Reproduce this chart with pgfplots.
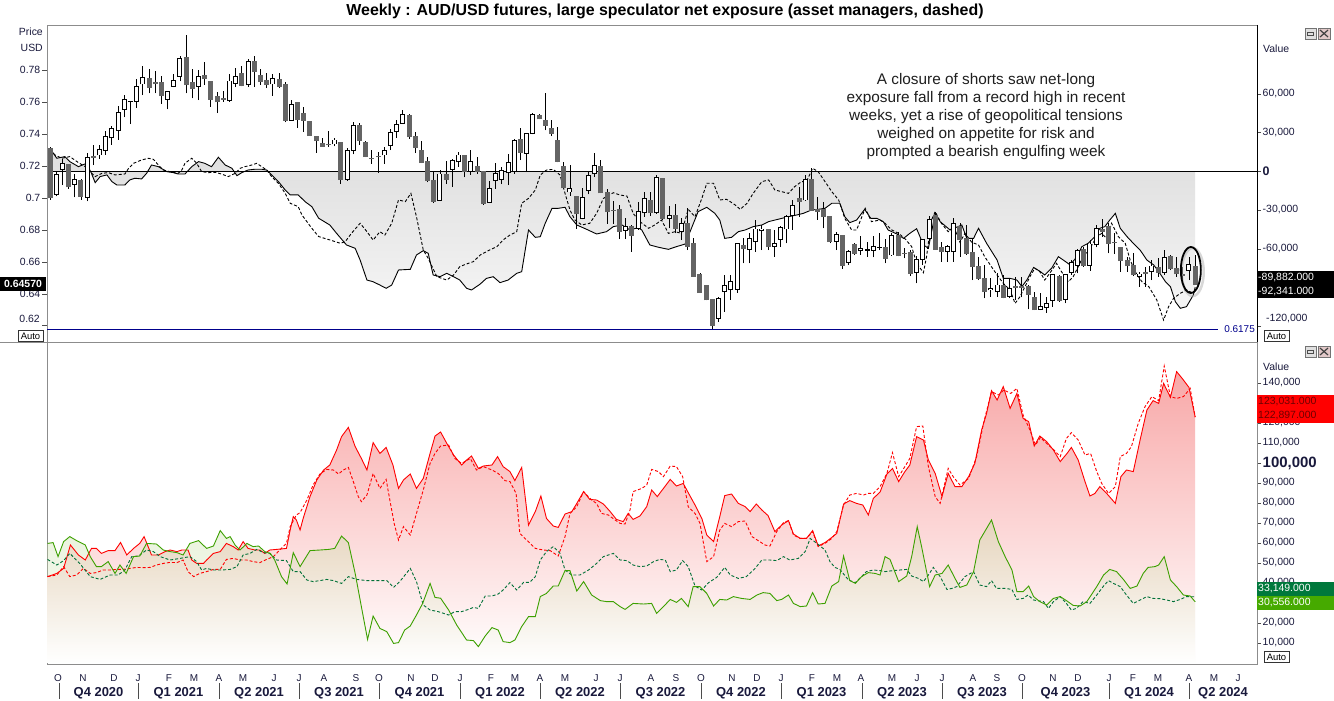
\documentclass[border=0pt]{standalone}
\usepackage{fontspec}
\setmainfont{Liberation Sans}
\usepackage{pgfplots}
\usepackage{pgfplotstable}
\pgfplotsset{compat=1.18}
\newcommand\fs[1]{\fontsize{#1}{#1}\selectfont}
\definecolor{cdown}{RGB}{100,100,100}
\definecolor{navyline}{RGB}{0,0,140}
\definecolor{gsolid}{RGB}{60,160,0}
\definecolor{gdash}{RGB}{0,112,55}
\definecolor{lblgreen}{RGB}{70,170,0}
\definecolor{lbldkgreen}{RGB}{0,120,60}
\definecolor{axtext}{RGB}{25,25,60}
\pgfplotsset{candle/.style={draw=none, mark=none, error bars/.cd, y dir=plus, y explicit, error mark=none}}

\pgfplotstableread{
i o h l c
1 .7022 .7160 .7010 .7146
2 .7178 .7241 .7080 .7215
4 .7086 .7150 .7004 .7118
6 .7004 .7284 .6978 .7256
8 .7269 .7333 .7247 .7303
9 .7297 .7419 .7269 .7385
10 .7376 .7452 .7333 .7437
11 .7424 .7574 .7366 .7533
12 .7553 .7645 .7505 .7617
13 .7603 .7610 .7462 .7607
14 .7607 .7746 .7566 .7699
15 .7714 .7824 .7645 .7753
19 .7617 .7671 .7555 .7667
20 .7699 .7774 .7695 .7738
21 .7763 .7888 .7731 .7875
24 .7699 .7802 .7613 .7759
29 .7609 .7774 .7602 .7733
30 .7720 .7817 .7695 .7761
32 .7710 .7871 .7695 .7856
36 .7714 .7778 .7641 .7746
39 .7488 .7613 .7485 .7587
46 .7338 .7376 .7323 .7363
48 .7118 .7311 .7106 .7300
49 .7300 .7473 .7273 .7456
54 .7269 .7322 .7215 .7300
55 .7327 .7435 .7300 .7413
56 .7415 .7488 .7376 .7462
57 .7469 .7553 .7462 .7522
63 .6985 .7172 .6980 .7150
65 .7179 .7247 .7071 .7232
66 .7226 .7286 .7194 .7269
68 .7166 .7300 .7144 .7230
71 .6972 .7108 .6968 .7058
72 .7108 .7219 .7058 .7151
73 .7118 .7194 .7086 .7172
74 .7157 .7273 .7080 .7219
75 .7166 .7372 .7151 .7359
77 .7280 .7410 .7161 .7404
78 .7404 .7531 .7398 .7522
84 .7037 .7204 .7015 .7058
86 .6871 .7065 .6865 .7004
87 .7049 .7161 .7022 .7140
88 .7151 .7279 .7130 .7204
93 .6796 .6871 .6742 .6822
95 .6809 .6976 .6800 .6914
96 .6907 .7039 .6882 .6997
98 .6907 .7144 .6900 .7129
100 .6872 .6949 .6809 .6891
102 .6788 .6872 .6736 .6841
108 .6245 .6381 .6224 .6370
109 .6412 .6517 .6287 .6448
110 .6423 .6517 .6360 .6475
111 .6427 .6720 .6406 .6715
113 .6677 .6778 .6590 .6746
114 .6726 .6861 .6663 .6805
115 .6793 .6830 .6673 .6805
117 .6698 .6799 .6632 .6715
118 .6740 .6825 .6694 .6815
119 .6805 .6893 .6715 .6882
120 .6889 .6987 .6799 .6955
122 .6987 .7143 .6980 .7116
127 .6726 .6788 .6673 .6768
129 .6594 .6673 .6579 .6664
131 .6669 .6762 .6642 .6684
132 .6673 .6726 .6632 .6675
133 .6673 .6762 .6627 .6698
134 .6690 .6778 .6673 .6691
136 .6642 .6778 .6636 .6762
140 .6531 .6636 .6464 .6614
141 .6614 .6745 .6579 .6740
142 .6746 .6887 .6732 .6866
145 .6663 .6705 .6600 .6698
146 .6663 .6872 .6600 .6841
152 .6423 .6496 .6381 .6433
153 .6412 .6527 .6381 .6454
155 .6381 .6496 .6370 .6433
160 .6301 .6402 .6297 .6322
161 .6314 .6381 .6280 .6339
162 .6356 .6525 .6318 .6521
164 .6364 .6520 .6339 .6517
165 .6531 .6611 .6517 .6594
166 .6579 .6680 .6527 .6673
168 .6579 .6736 .6544 .6711
169 .6705 .6830 .6690 .6809
176 .6510 .6537 .6443 .6523
178 .6537 .6611 .6485 .6573
180 .6531 .6673 .6517 .6627
184 .6544 .6632 .6485 .6585
}\upcandles

\pgfplotstableread{
i o h l c
0 .7308 .7320 .6990 .7000
3 .7211 .7215 .7058 .7069
5 .7110 .7118 .6989 .7011
7 .7262 .7329 .7206 .7256
16 .7746 .7806 .7656 .7695
17 .7725 .7796 .7656 .7716
18 .7725 .7763 .7591 .7641
22 .7882 .8022 .7656 .7710
23 .7725 .7806 .7624 .7684
25 .7768 .7849 .7710 .7748
26 .7731 .7735 .7570 .7619
27 .7639 .7667 .7531 .7602
28 .7622 .7671 .7602 .7617
31 .7778 .7828 .7699 .7705
33 .7856 .7892 .7695 .7791
34 .7768 .7811 .7710 .7731
35 .7738 .7785 .7688 .7710
37 .7742 .7785 .7688 .7699
38 .7710 .7725 .7473 .7488
40 .7596 .7602 .7441 .7490
41 .7527 .7570 .7413 .7488
42 .7480 .7484 .7388 .7391
43 .7385 .7391 .7282 .7359
44 .7342 .7376 .7320 .7323
45 .7338 .7419 .7320 .7333
47 .7348 .7350 .7086 .7118
50 .7452 .7467 .7334 .7360
51 .7348 .7359 .7255 .7258
52 .7249 .7301 .7215 .7247
53 .7260 .7290 .7157 .7258
58 .7516 .7527 .7372 .7383
59 .7387 .7415 .7280 .7318
60 .7300 .7359 .7218 .7221
61 .7226 .7258 .7097 .7108
62 .7112 .7166 .6968 .6978
64 .7150 .7230 .7086 .7118
67 .7264 .7266 .7129 .7168
69 .7194 .7258 .7151 .7166
70 .7166 .7168 .6957 .6963
76 .7366 .7441 .7237 .7286
79 .7516 .7527 .7493 .7495
80 .7488 .7656 .7424 .7456
81 .7437 .7488 .7387 .7404
82 .7359 .7447 .7222 .7230
83 .7194 .7226 .7062 .7065
85 .7011 .7013 .6806 .6899
89 .7200 .7237 .7030 .7032
90 .7032 .7054 .6839 .6914
91 .6922 .6980 .6839 .6920
92 .6930 .6957 .6742 .6791
94 .6824 .6828 .6662 .6764
97 .6983 .7039 .6887 .6907
99 .7123 .7125 .6861 .6872
101 .6887 .6960 .6778 .6809
103 .6841 .6935 .6673 .6698
104 .6715 .6746 .6508 .6510
105 .6517 .6531 .6404 .6406
106 .6448 .6450 .6358 .6360
107 .6366 .6368 .6178 .6203
112 .6700 .6746 .6590 .6680
116 .6799 .6801 .6673 .6694
121 .6997 .7070 .6882 .6976
123 .7116 .7185 .6922 .6924
124 .6930 .7008 .6862 .6914
125 .6928 .6976 .6809 .6882
126 .6882 .6884 .6715 .6726
128 .6762 .6764 .6556 .6579
130 .6711 .6715 .6642 .6653
135 .6690 .6740 .6590 .6621
137 .6762 .6788 .6634 .6636
138 .6653 .6684 .6621 .6651
139 .6657 .6673 .6510 .6527
143 .6887 .6914 .6675 .6677
144 .6690 .6726 .6600 .6663
147 .6820 .6841 .6632 .6736
148 .6746 .6830 .6642 .6653
149 .6657 .6746 .6485 .6569
150 .6573 .6632 .6485 .6496
151 .6496 .6579 .6370 .6412
154 .6454 .6517 .6370 .6377
156 .6443 .6506 .6360 .6441
157 .6443 .6506 .6377 .6440
158 .6443 .6454 .6301 .6397
159 .6374 .6412 .6297 .6299
163 .6510 .6517 .6350 .6356
167 .6677 .6694 .6569 .6579
170 .6803 .6866 .6757 .6788
171 .6820 .6841 .6653 .6715
172 .6720 .6778 .6648 .6718
173 .6690 .6692 .6537 .6606
174 .6606 .6632 .6537 .6573
175 .6579 .6653 .6510 .6517
177 .6531 .6565 .6443 .6523
179 .6565 .6621 .6506 .6531
181 .6632 .6642 .6548 .6559
182 .6559 .6632 .6506 .6523
183 .6517 .6569 .6489 .6515
185 .6573 .6642 .6454 .6457
}\downcandles

\begin{document}
\begin{tikzpicture}[x=1bp,y=1bp]
\fill[white] (0,0) rectangle (1334,-700);

% ---------- top panel: net exposure (right axis) ----------
\begin{axis}[at={(47bp,-25bp)}, anchor=north west, scale only axis,
  width=1210bp, height=317bp,
  xmin=-0.485, xmax=194.99, ymin=-132.33, ymax=113.41,
  axis line style={draw=black!45},
  xtick=\empty, ytick pos=right, tick align=outside,
  major tick length=4bp, ytick style={black!70},
  ytick={-120,-90,-60,-30,0,30,60},
  yticklabels={{},{},{-60,000},{-30,000},{\bfseries\fs{12.5}0},{30,000},{60,000}},
  yticklabel style={font=\fs{10.5}, anchor=west, inner sep=1.5bp, text=axtext}]
% shaded area between large-speculator net line and zero
\addplot[draw=none, top color=black!13, bottom color=black!4] coordinates {
(0,17.8) (1.1,10.1) (2.4,11.4) (3.2,7.5) (4.6,3.6) (5.9,6.2) (6.7,-1.6) (7.3,-8.8) (8.1,-4.1) (9.2,-2.8) (10.0,-8.0) (10.8,-10.6) (12.1,-10.6) (12.9,-6.7) (13.7,-5.4) (14.8,-5.9) (15.6,-1.6) (16.4,4.9) (17.5,3.6) (18.9,-0.3) (19.9,-1.0) (20.7,-2.1) (21.8,-2.1) (22.9,3.6) (24.0,7.5) (25.0,6.2) (26.1,3.6) (27.2,10.9) (28.3,4.9) (29.4,2.3) (30.2,-3.4) (31.0,-1.0) (32.0,1.0) (33.1,1.6) (34.2,1.6) (35.0,1.0) (35.8,-2.8) (36.9,-8.0) (38.0,-14.5) (38.8,-18.3) (40.1,-18.3) (41.2,-23.5) (42.3,-27.4) (43.4,-36.4) (45.2,-41.6) (46.3,-48.1) (47.9,-57.1) (49.3,-59.7) (50.1,-68.8) (51.2,-84.3) (52.2,-85.6) (53.3,-88.2) (54.3,-90.7) (55.2,-88.2) (56.3,-76.5) (58.2,-76.0) (59.2,-64.9) (60.3,-61.5) (61.1,-63.6) (61.9,-80.4) (63.0,-81.7) (64.1,-79.1) (65.2,-81.7) (66.2,-84.3) (67.3,-90.7) (68.1,-92.0) (69.5,-87.4) (70.5,-83.0) (71.6,-81.7) (72.7,-86.3) (74.0,-84.3) (75.4,-79.1) (76.2,-77.8) (77.3,-45.5) (78.4,-51.2) (79.2,-50.7) (80.0,-40.3) (81.1,-28.7) (82.1,-28.7) (83.2,-27.9) (84.0,-35.2) (85.1,-41.6) (86.7,-45.0) (88.3,-48.6) (89.9,-46.8) (91.0,-42.9) (92.4,-41.6) (93.7,-45.5) (95.0,-43.7) (95.6,-45.5) (96.9,-57.1) (98.3,-58.9) (99.9,-60.5) (101.2,-58.4) (102.6,-56.4) (103.4,-46.8) (104.7,-31.3) (106.1,-27.9) (107.4,-32.6) (108.2,-37.8) (109.0,-52.0) (110.1,-51.2) (111.2,-46.8) (112.3,-45.5) (113.6,-42.9) (115.0,-41.6) (116.1,-39.0) (117.1,-37.8) (118.2,-36.5) (119.3,-35.2) (120.6,-33.9) (121.7,-32.6) (123.0,-30.0) (124.1,-29.5) (125.2,-28.7) (126.3,-24.8) (127.6,-24.8) (128.4,-35.2) (129.2,-39.8) (130.3,-37.8) (131.6,-29.5) (132.6,-36.5) (133.6,-36.5) (134.6,-39.0) (135.4,-45.5) (136.8,-48.6) (137.9,-52.0) (138.9,-48.1) (140.0,-44.5) (141.1,-57.1) (141.9,-59.7) (143.0,-32.6) (143.8,-39.0) (145.4,-45.5) (147.3,-41.6) (148.1,-52.0) (149.2,-52.0) (150.0,-44.2) (151.3,-55.8) (153.0,-68.8) (154.0,-83.0) (155.1,-83.0) (156.2,-84.3) (157.0,-89.4) (157.8,-84.3) (158.9,-74.5) (160.0,-77.8) (160.7,-80.4) (161.8,-75.2) (162.9,-66.2) (163.7,-68.8) (164.8,-72.6) (165.9,-66.2) (166.7,-58.4) (167.7,-55.8) (168.8,-50.7) (169.6,-44.2) (170.4,-42.9) (171.2,-37.8) (172.1,-32.6) (172.9,-44.2) (174.0,-50.7) (175.0,-55.8) (176.1,-61.0) (177.2,-68.8) (178.3,-72.6) (179.3,-79.1) (180.2,-85.6) (181.0,-89.4) (181.8,-101.1) (182.6,-106.2) (183.6,-104.9) (184.7,-95.9) (185,-89.9)} \closedcycle;
% large speculators net (solid)
\addplot[black, line width=0.9bp] coordinates {
(0,17.8) (1.1,10.1) (2.4,11.4) (3.2,7.5) (4.6,3.6) (5.9,6.2) (6.7,-1.6) (7.3,-8.8) (8.1,-4.1) (9.2,-2.8) (10.0,-8.0) (10.8,-10.6) (12.1,-10.6) (12.9,-6.7) (13.7,-5.4) (14.8,-5.9) (15.6,-1.6) (16.4,4.9) (17.5,3.6) (18.9,-0.3) (19.9,-1.0) (20.7,-2.1) (21.8,-2.1) (22.9,3.6) (24.0,7.5) (25.0,6.2) (26.1,3.6) (27.2,10.9) (28.3,4.9) (29.4,2.3) (30.2,-3.4) (31.0,-1.0) (32.0,1.0) (33.1,1.6) (34.2,1.6) (35.0,1.0) (35.8,-2.8) (36.9,-8.0) (38.0,-14.5) (38.8,-18.3) (40.1,-18.3) (41.2,-23.5) (42.3,-27.4) (43.4,-36.4) (45.2,-41.6) (46.3,-48.1) (47.9,-57.1) (49.3,-59.7) (50.1,-68.8) (51.2,-84.3) (52.2,-85.6) (53.3,-88.2) (54.3,-90.7) (55.2,-88.2) (56.3,-76.5) (58.2,-76.0) (59.2,-64.9) (60.3,-61.5) (61.1,-63.6) (61.9,-80.4) (63.0,-81.7) (64.1,-79.1) (65.2,-81.7) (66.2,-84.3) (67.3,-90.7) (68.1,-92.0) (69.5,-87.4) (70.5,-83.0) (71.6,-81.7) (72.7,-86.3) (74.0,-84.3) (75.4,-79.1) (76.2,-77.8) (77.3,-45.5) (78.4,-51.2) (79.2,-50.7) (80.0,-40.3) (81.1,-28.7) (82.1,-28.7) (83.2,-27.9) (84.0,-35.2) (85.1,-41.6) (86.7,-45.0) (88.3,-48.6) (89.9,-46.8) (91.0,-42.9) (92.4,-41.6) (93.7,-45.5) (95.0,-43.7) (95.6,-45.5) (96.9,-57.1) (98.3,-58.9) (99.9,-60.5) (101.2,-58.4) (102.6,-56.4) (103.4,-46.8) (104.7,-31.3) (106.1,-27.9) (107.4,-32.6) (108.2,-37.8) (109.0,-52.0) (110.1,-51.2) (111.2,-46.8) (112.3,-45.5) (113.6,-42.9) (115.0,-41.6) (116.1,-39.0) (117.1,-37.8) (118.2,-36.5) (119.3,-35.2) (120.6,-33.9) (121.7,-32.6) (123.0,-30.0) (124.1,-29.5) (125.2,-28.7) (126.3,-24.8) (127.6,-24.8) (128.4,-35.2) (129.2,-39.8) (130.3,-37.8) (131.6,-29.5) (132.6,-36.5) (133.6,-36.5) (134.6,-39.0) (135.4,-45.5) (136.8,-48.6) (137.9,-52.0) (138.9,-48.1) (140.0,-44.5) (141.1,-57.1) (141.9,-59.7) (143.0,-32.6) (143.8,-39.0) (145.4,-45.5) (147.3,-41.6) (148.1,-52.0) (149.2,-52.0) (150.0,-44.2) (151.3,-55.8) (153.0,-68.8) (154.0,-83.0) (155.1,-83.0) (156.2,-84.3) (157.0,-89.4) (157.8,-84.3) (158.9,-74.5) (160.0,-77.8) (160.7,-80.4) (161.8,-75.2) (162.9,-66.2) (163.7,-68.8) (164.8,-72.6) (165.9,-66.2) (166.7,-58.4) (167.7,-55.8) (168.8,-50.7) (169.6,-44.2) (170.4,-42.9) (171.2,-37.8) (172.1,-32.6) (172.9,-44.2) (174.0,-50.7) (175.0,-55.8) (176.1,-61.0) (177.2,-68.8) (178.3,-72.6) (179.3,-79.1) (180.2,-85.6) (181.0,-89.4) (181.8,-101.1) (182.6,-106.2) (183.6,-104.9) (184.7,-95.9) (185,-89.9)};
% asset managers net (dashed)
\addplot[black, line width=0.9bp, dash pattern=on 3bp off 2bp] coordinates {
(0,16.5) (0.8,12.7) (1.9,10.1) (3.2,11.4) (4.6,6.7) (5.7,3.6) (6.5,-0.3) (7.3,-4.1) (8.4,-1.6) (9.4,-1.0) (10.5,-2.8) (12.1,-2.1) (12.7,2.3) (13.5,6.2) (14.8,8.8) (15.9,10.1) (16.7,9.3) (17.5,4.9) (18.3,1.0) (19.4,-0.3) (20.7,-1.6) (21.3,1.0) (21.8,6.2) (22.9,10.1) (23.7,6.2) (24.5,-0.3) (25.6,-1.0) (26.7,-0.8) (27.7,-2.1) (28.8,-4.1) (29.9,-1.6) (30.7,2.3) (31.5,3.6) (32.6,4.9) (33.4,6.2) (34.2,3.6) (35.0,1.0) (35.8,-4.1) (36.9,-9.3) (38.0,-17.1) (38.8,-24.8) (40.1,-27.4) (40.7,-33.9) (42.3,-44.2) (43.4,-50.6) (45.2,-53.2) (46.9,-55.8) (47.7,-54.5) (48.7,-48.1) (50.1,-40.3) (51.2,-46.8) (52.2,-53.3) (53.3,-46.8) (54.1,-49.4) (55.2,-40.3) (56.3,-22.2) (57.4,-23.5) (58.3,-17.1) (59.2,-35.2) (60.3,-61.0) (61.1,-67.5) (62.5,-81.7) (64.1,-84.3) (65.2,-80.4) (66.2,-73.9) (67.3,-71.8) (68.4,-70.0) (69.5,-64.9) (70.8,-61.5) (72.2,-58.4) (73.2,-53.2) (74.3,-49.4) (75.4,-46.8) (76.2,-24.8) (77.3,-21.0) (78.4,-14.5) (79.2,-2.9) (80.2,1.0) (81.3,1.5) (82.4,-2.9) (83.2,-17.1) (84.0,-30.0) (84.8,-37.7) (85.9,-41.6) (87.2,-40.3) (88.3,-32.6) (89.4,-21.0) (91.0,-16.6) (92.1,-18.4) (93.2,-19.2) (94.2,-32.6) (95.3,-39.0) (96.7,-44.2) (97.7,-41.6) (98.8,-37.8) (99.9,-48.1) (101.0,-46.8) (102.0,-48.1) (103.1,-29.5) (104.2,-35.2) (105.3,-21.0) (106.1,-9.3) (107.2,-9.3) (108.2,-22.2) (109.3,-21.7) (110.7,-26.1) (111.5,-29.5) (112.6,-24.8) (113.6,-17.1) (115.0,-8.0) (116.1,-6.7) (117.1,-14.5) (118.2,-15.8) (119.3,-17.1) (120.3,-11.9) (121.4,-8.0) (122.2,-8.0) (123.2,2.3) (124.1,-0.3) (125.2,-8.0) (126.3,-15.8) (127.4,-22.2) (128.4,-36.5) (129.5,-45.5) (130.3,-45.5) (131.7,-28.7) (132.7,-39.0) (134.1,-37.8) (134.9,-40.3) (136.0,-45.5) (137.1,-48.1) (138.2,-52.7) (139.2,-58.4) (140.0,-71.3) (141.1,-78.6) (141.6,-66.2) (142.4,-37.8) (143.0,-31.3) (144.0,-40.3) (145.1,-46.8) (146.0,-42.9) (147.0,-55.0) (147.8,-48.1) (148.9,-55.0) (150.0,-57.1) (151.0,-66.2) (151.9,-72.6) (153.0,-80.4) (154.0,-86.8) (155.1,-92.0) (155.9,-102.4) (156.7,-97.2) (157.5,-89.4) (158.3,-81.7) (159.1,-75.2) (159.9,-77.8) (160.7,-84.3) (161.5,-79.1) (162.6,-71.3) (163.4,-77.8) (164.5,-85.6) (165.3,-81.7) (166.1,-73.9) (166.9,-66.2) (168.0,-59.7) (169.1,-50.7) (169.9,-48.1) (170.7,-52.0) (171.5,-40.3) (172.6,-50.7) (173.7,-55.8) (174.5,-68.8) (175.3,-77.8) (176.4,-85.6) (177.5,-89.4) (178.8,-99.8) (179.9,-115.3) (180.7,-105.0) (181.5,-98.5) (182.6,-94.6) (183.6,-92.0) (184.7,-94.6) (185,-92.3)};
\addplot[black, line width=0.9bp] coordinates {(-0.485,0) (194.99,0)};
\end{axis}

% ---------- top panel: price candles (left axis) ----------
\begin{axis}[at={(47bp,-25bp)}, anchor=north west, scale only axis,
  width=1210bp, height=317bp,
  xmin=-0.485, xmax=194.99, ymin=0.60966, ymax=0.8084,
  hide x axis, axis y line*=left, axis line style={draw=black!45},
  ytick pos=left, tick align=outside, major tick length=5bp, ytick style={black!70},
  ytick={0.62,0.64,0.66,0.68,0.70,0.72,0.74,0.76,0.78},
  yticklabels={{},0.64,0.66,0.68,0.7,0.72,0.74,0.76,0.78},
  yticklabel style={font=\fs{10.5}, anchor=east, inner sep=1.5bp, text=axtext}]
\addplot[navyline, line width=1bp] coordinates {(-0.485,0.6175) (188.7,0.6175)};
% wicks
\addplot[candle, error bar style={draw=black, line width=0.9bp}]
  table[x=i, y=l, y error plus expr=\thisrow{h}-\thisrow{l}] {\upcandles};
\addplot[candle, error bar style={draw=black, line width=0.9bp}]
  table[x=i, y=l, y error plus expr=\thisrow{h}-\thisrow{l}] {\downcandles};
% bullish bodies
\addplot[candle, error bar style={draw=black, line width=5bp}]
  table[x=i, y expr=\thisrow{o}-0.0003, y error plus expr=\thisrow{c}-\thisrow{o}+0.0006] {\upcandles};
\addplot[candle, error bar style={draw=white, line width=3bp}]
  table[x=i, y expr=\thisrow{o}+0.0003, y error plus expr={max(\thisrow{c}-\thisrow{o}-0.0006,0)}] {\upcandles};
% bearish bodies
\addplot[candle, error bar style={draw=cdown, line width=5bp}]
  table[x=i, y expr=\thisrow{c}-0.0003, y error plus expr=\thisrow{o}-\thisrow{c}+0.0006] {\downcandles};
\draw[black!30, line width=2.5bp, opacity=0.5] (axis cs:184.6,0.6535) ellipse [x radius=11bp, y radius=24bp];
\draw[black, line width=1.8bp] (axis cs:184.3,0.6548) ellipse [x radius=10bp, y radius=23bp];
\end{axis}

% ---------- bottom panel ----------
\begin{axis}[at={(47bp,-342bp)}, anchor=north west, scale only axis,
  width=1210bp, height=322bp,
  xmin=-0.485, xmax=194.99, ymin=-0.5, ymax=160.5,
  axis line style={draw=black!45},
  ytick pos=right, tick align=outside, major tick length=4bp, ytick style={black!70},
  xtick style={draw=none},
  ytick={10,20,30,40,50,60,70,80,90,100,110,120,130,140},
  yticklabels={{10,000},{20,000},{},{40,000},{50,000},{60,000},{70,000},{80,000},{90,000},{\bfseries\fs{15}100,000},{110,000},{120,000},{},{140,000}},
  yticklabel style={font=\fs{10.5}, anchor=west, inner sep=1.5bp, text=axtext},
  xtick={1.29,5.33,10.34,14.22,19.22,23.26,27.30,31.18,36.19,40.23,44.26,49.43,53.15,58.32,62.20,66.24,71.24,75.12,79.16,83.20,88.21,92.08,97.09,101.13,105.17,110.18,114.22,118.09,123.10,127.14,131.02,136.03,140.06,144.10,149.11,152.99,157.03,162.04,166.07,171.08,174.96,179.00,184.01,188.05,191.92},
  xticklabels={O,N,D,J,F,M,A,M,J,J,A,S,O,N,D,J,F,M,A,M,J,J,A,S,O,N,D,J,F,M,A,M,J,J,A,S,O,N,D,J,F,M,A,M,J},
  xticklabel style={font=\fs{10}, anchor=north, inner sep=0pt, yshift=-6bp, text=axtext},
  extra x ticks={7.84,20.76,33.77,46.69,59.70,72.70,85.62,98.63,111.63,124.64,137.64,150.57,164.06,177.55,189.5},
  extra x tick labels={Q4 2020,Q1 2021,Q2 2021,Q3 2021,Q4 2021,Q1 2022,Q2 2022,Q3 2022,Q4 2022,Q1 2023,Q2 2023,Q3 2023,Q4 2023,Q1 2024,Q2 2024},
  extra x tick style={xtick style={draw=none}, xticklabel style={font=\bfseries\fs{13}, anchor=north, inner sep=0pt, yshift=-13bp, text=axtext}}]
% red area (large speculators long)
\addplot[draw=none, top color={rgb,255:red,248;green,168;blue,168}, bottom color=white] coordinates {
(-0.4,43.2) (1.1,44.8) (2.2,47.3) (3.3,59.0) (4.6,54.0) (5.7,51.5) (6.7,57.3) (7.5,57.3) (8.3,54.8) (9.4,56.2) (10.5,56.2) (11.4,60.3) (12.4,54.0) (13.5,57.3) (14.5,59.8) (15.2,63.2) (16.4,54.0) (17.5,54.0) (18.6,55.7) (19.4,56.5) (20.5,55.7) (21.3,56.5) (22.3,56.5) (22.9,51.5) (23.7,49.8) (24.8,49.8) (25.3,51.5) (26.4,54.8) (27.5,55.7) (28.5,59.8) (29.6,58.2) (30.4,56.5) (31.2,60.7) (32.0,57.3) (33.1,56.5) (33.9,56.5) (34.7,54.8) (35.5,56.5) (36.6,56.8) (38.2,57.3) (38.8,66.5) (39.3,73.2) (39.8,71.5) (40.4,66.5) (40.9,72.3) (42.0,83.2) (43.1,91.5) (44.2,96.5) (45.2,99.0) (46.3,106.5) (47.1,113.2) (48.2,117.8) (49.3,108.2) (50.3,102.3) (51.2,96.5) (52.2,110.2) (53.3,104.8) (54.3,107.8) (55.4,99.0) (56.3,87.3) (57.1,91.5) (58.2,94.5) (59.2,87.3) (60.3,92.3) (61.4,104.8) (62.2,113.5) (63.1,115.5) (64.1,109.8) (65.2,104.0) (66.5,99.0) (67.3,101.5) (68.1,103.5) (69.2,97.3) (70.0,98.5) (71.4,99.0) (72.3,103.2) (73.2,98.2) (74.3,95.7) (75.1,91.2) (76.2,97.8) (77.3,69.0) (78.4,75.7) (79.3,83.5) (80.2,72.3) (81.3,68.5) (82.1,67.8) (83.2,74.5) (84.3,75.7) (85.1,79.8) (86.2,85.7) (87.2,81.8) (88.3,81.5) (89.4,79.5) (90.5,75.7) (91.5,71.8) (92.6,70.7) (93.4,74.8) (94.2,71.8) (95.3,73.5) (96.4,78.2) (97.2,86.5) (98.1,83.2) (99.1,87.3) (100.2,91.8) (101.2,88.5) (102.3,89.8) (103.1,85.2) (104.2,79.0) (105.3,72.3) (106.1,64.0) (107.2,60.7) (108.2,73.2) (109.0,83.7) (110.1,84.5) (111.2,79.8) (112.3,78.2) (113.1,75.7) (114.1,79.5) (115.0,76.5) (116.0,73.7) (117.1,65.7) (118.2,69.0) (119.3,71.2) (120.1,64.5) (121.2,62.3) (122.2,62.3) (123.2,66.2) (124.1,58.5) (125.2,60.2) (126.3,62.8) (127.1,64.8) (128.2,79.5) (129.2,81.2) (130.3,79.8) (131.3,79.0) (132.2,74.0) (133.0,82.3) (134.1,85.5) (135.2,94.5) (136.1,97.3) (137.1,90.7) (138.1,95.7) (138.9,99.0) (140.0,113.2) (141.1,111.5) (141.9,101.5) (143.0,94.8) (144.1,83.2) (145.1,94.8) (146.2,88.2) (147.3,88.2) (148.4,93.2) (149.4,99.8) (150.5,116.5) (151.3,124.8) (152.1,136.2) (153.0,131.5) (154.0,138.2) (155.1,127.3) (156.2,134.8) (157.2,122.3) (158.1,120.7) (159.0,108.5) (159.9,113.5) (161.0,110.7) (162.1,106.5) (163.2,100.7) (164.3,104.8) (165.0,107.8) (166.1,101.5) (167.2,90.7) (168.0,83.5) (168.8,84.8) (169.6,88.2) (170.7,84.8) (172.1,79.8) (173.0,93.2) (173.9,96.5) (175.0,95.7) (176.1,111.5) (177.2,126.5) (178.2,131.2) (179.1,129.8) (179.9,139.8) (181.0,132.8) (182.0,145.7) (182.9,142.3) (184.0,137.8) (185.0,123.0)} \closedcycle;
% green area (large speculators short)
\addplot[draw=none, top color={rgb,255:red,185;green,215;blue,140}, bottom color=white, fill opacity=0.32] coordinates {
(-0.4,59.8) (0.5,60.2) (1.3,53.2) (2.2,60.7) (3.2,63.2) (4.3,61.2) (5.7,59.0) (6.5,53.2) (7.5,48.2) (8.3,48.2) (9.4,50.7) (10.5,44.8) (11.3,49.0) (12.3,44.8) (13.5,53.2) (14.5,53.5) (15.6,59.8) (17.2,59.5) (18.3,56.5) (19.4,55.7) (20.5,55.2) (21.5,54.0) (22.6,59.8) (24.0,61.2) (25.3,57.3) (26.4,58.5) (27.5,66.2) (28.5,62.3) (29.1,63.2) (29.9,59.0) (30.7,56.5) (31.8,59.8) (32.8,58.2) (33.7,58.5) (34.7,55.7) (35.6,54.8) (36.3,51.5) (37.4,43.2) (38.3,39.5) (39.3,55.2) (40.4,48.2) (42.0,56.2) (43.6,56.5) (45.0,56.8) (46.0,57.3) (47.1,63.5) (48.2,60.2) (49.3,44.8) (50.3,28.2) (51.3,11.8) (52.2,23.5) (53.3,17.3) (54.4,15.7) (55.5,9.8) (56.3,10.2) (57.3,16.5) (58.2,18.5) (59.2,24.0) (60.2,29.8) (61.4,39.8) (62.2,32.8) (63.1,32.4) (64.4,26.5) (65.7,19.0) (67.3,11.5) (68.4,11.2) (69.2,8.2) (70.3,13.5) (71.4,17.7) (72.4,16.5) (73.2,10.7) (74.3,10.2) (75.1,11.5) (76.2,18.2) (77.3,23.2) (78.4,23.2) (79.2,33.2) (80.2,34.8) (81.3,38.5) (82.1,38.5) (83.2,46.2) (84.0,46.2) (85.1,36.0) (86.2,40.7) (87.5,34.0) (88.9,31.2) (89.9,30.7) (91.0,30.7) (92.1,28.2) (92.9,26.8) (94.2,29.8) (95.9,29.5) (97.2,29.8) (98.0,24.8) (99.1,28.2) (100.2,31.8) (101.2,30.3) (102.0,32.3) (103.1,28.2) (103.9,38.2) (105.0,38.2) (106.1,34.8) (107.2,28.5) (108.2,31.8) (109.3,31.5) (110.4,33.2) (111.7,32.3) (113.1,31.8) (114.2,34.0) (115.2,35.2) (116.3,34.8) (117.4,31.2) (118.2,31.8) (119.3,34.0) (120.1,29.8) (121.2,28.2) (122.2,28.5) (123.2,35.2) (124.1,29.5) (125.2,29.8) (126.3,38.5) (127.4,40.7) (128.2,53.5) (129.2,41.2) (130.1,39.8) (131.1,43.2) (132.2,45.2) (133.3,44.8) (134.1,44.0) (134.9,53.2) (135.7,51.8) (137.1,40.7) (138.4,43.5) (139.2,53.2) (140.1,68.2) (140.8,58.2) (142.1,38.2) (143.0,44.0) (144.1,44.8) (145.1,49.0) (146.2,42.3) (147.0,37.8) (148.1,39.0) (149.2,45.7) (150.2,61.5) (152.1,71.5) (153.2,60.7) (154.3,53.2) (155.4,46.5) (156.2,35.7) (157.2,35.7) (158.1,38.5) (158.9,33.2) (159.9,30.7) (161.0,29.0) (162.1,32.3) (163.2,33.2) (164.2,31.2) (165.3,28.8) (166.4,28.5) (167.5,30.7) (169.1,38.2) (170.2,44.0) (171.2,46.8) (172.3,45.7) (173.4,41.8) (174.5,37.3) (175.6,38.5) (176.6,44.8) (177.4,47.8) (178.5,48.2) (179.1,49.0) (180.0,53.2) (181.0,41.5) (182.0,38.2) (183.1,34.0) (184.2,33.5) (185.0,30.6)} \closedcycle;
% red dashed (asset managers long)
\addplot[red, line width=0.9bp, dash pattern=on 3bp off 2bp] coordinates {
(-0.4,43.2) (1.1,44.0) (2.2,48.2) (3.2,43.2) (4.3,44.0) (5.4,47.3) (6.5,44.8) (7.5,45.2) (8.6,46.5) (9.7,46.5) (10.8,46.8) (11.8,46.8) (12.9,47.3) (14.0,47.8) (15.1,47.7) (16.2,47.8) (17.2,49.0) (18.3,49.8) (19.4,50.3) (20.5,50.2) (21.5,51.5) (22.3,45.7) (23.2,43.2) (24.2,44.8) (25.3,45.7) (26.4,46.8) (27.5,46.8) (28.5,51.8) (29.6,52.3) (30.7,51.5) (31.8,51.5) (32.8,50.7) (33.9,50.2) (35.0,51.8) (36.1,53.2) (37.2,56.8) (38.2,59.8) (38.8,68.2) (39.8,74.0) (40.4,75.2) (41.5,81.5) (42.5,89.0) (43.6,94.5) (44.7,96.8) (45.8,96.5) (46.6,94.5) (47.4,96.5) (48.2,97.8) (49.0,90.7) (49.8,83.2) (50.3,80.7) (51.2,84.0) (52.2,94.8) (53.3,87.3) (54.3,91.8) (54.9,81.5) (55.6,69.8) (56.3,61.5) (57.1,68.2) (58.2,64.0) (59.2,74.8) (60.3,86.5) (61.4,99.8) (62.2,104.8) (63.1,108.5) (64.4,109.0) (65.4,102.3) (66.5,99.8) (67.9,102.3) (68.9,96.5) (70.0,98.2) (71.4,96.5) (72.4,94.8) (73.5,91.2) (74.3,90.7) (75.3,84.8) (75.9,64.8) (77.0,61.5) (78.4,57.3) (79.7,56.5) (80.8,56.2) (82.1,53.5) (83.2,63.2) (84.0,74.8) (85.1,78.2) (86.2,85.7) (87.5,81.5) (88.3,79.8) (89.1,74.8) (90.2,74.0) (91.3,71.5) (92.1,69.8) (92.9,69.5) (93.7,76.5) (94.2,85.7) (95.6,87.3) (96.4,89.0) (97.2,96.8) (98.3,95.7) (99.1,93.2) (100.2,98.5) (101.2,98.2) (102.2,93.2) (103.1,78.2) (104.2,74.8) (105.0,69.8) (106.1,50.7) (107.2,53.2) (108.2,66.5) (109.0,69.8) (110.1,68.2) (111.2,70.7) (112.3,71.0) (113.4,63.2) (114.4,61.2) (115.5,59.0) (116.3,58.5) (117.4,65.7) (118.5,70.2) (119.3,71.2) (120.1,64.0) (121.2,62.3) (122.2,62.3) (123.2,65.7) (124.1,58.2) (125.2,59.8) (126.3,62.3) (127.1,65.7) (128.2,79.0) (129.2,84.0) (130.3,84.8) (131.4,84.0) (132.2,84.8) (133.0,84.8) (134.1,88.2) (135.2,94.8) (136.1,105.2) (137.1,93.2) (138.1,98.2) (138.9,102.3) (140.0,118.2) (141.0,118.5) (141.9,98.2) (143.0,83.2) (143.8,79.8) (144.3,86.5) (145.1,97.3) (145.9,93.2) (147.0,89.0) (148.4,92.3) (149.7,103.2) (150.8,119.8) (152.1,135.7) (153.2,134.0) (154.1,136.5) (155.2,134.8) (156.2,137.3) (157.2,124.0) (158.3,116.5) (159.2,109.0) (160.0,112.8) (161.0,109.8) (162.1,106.8) (163.2,103.2) (164.2,112.3) (165.0,115.2) (166.1,111.5) (167.2,104.0) (168.1,104.8) (169.1,95.7) (169.9,89.8) (171.0,84.8) (172.1,88.2) (172.9,103.2) (173.9,104.8) (174.7,108.2) (175.8,119.8) (176.9,128.2) (178.0,133.2) (179.1,131.2) (180.0,148.5) (181.0,133.2) (182.0,132.3) (183.1,133.2) (184.2,137.3) (185.0,122.9)};
% red solid line
\addplot[red, line width=0.9bp] coordinates {
(-0.4,43.2) (1.1,44.8) (2.2,47.3) (3.3,59.0) (4.6,54.0) (5.7,51.5) (6.7,57.3) (7.5,57.3) (8.3,54.8) (9.4,56.2) (10.5,56.2) (11.4,60.3) (12.4,54.0) (13.5,57.3) (14.5,59.8) (15.2,63.2) (16.4,54.0) (17.5,54.0) (18.6,55.7) (19.4,56.5) (20.5,55.7) (21.3,56.5) (22.3,56.5) (22.9,51.5) (23.7,49.8) (24.8,49.8) (25.3,51.5) (26.4,54.8) (27.5,55.7) (28.5,59.8) (29.6,58.2) (30.4,56.5) (31.2,60.7) (32.0,57.3) (33.1,56.5) (33.9,56.5) (34.7,54.8) (35.5,56.5) (36.6,56.8) (38.2,57.3) (38.8,66.5) (39.3,73.2) (39.8,71.5) (40.4,66.5) (40.9,72.3) (42.0,83.2) (43.1,91.5) (44.2,96.5) (45.2,99.0) (46.3,106.5) (47.1,113.2) (48.2,117.8) (49.3,108.2) (50.3,102.3) (51.2,96.5) (52.2,110.2) (53.3,104.8) (54.3,107.8) (55.4,99.0) (56.3,87.3) (57.1,91.5) (58.2,94.5) (59.2,87.3) (60.3,92.3) (61.4,104.8) (62.2,113.5) (63.1,115.5) (64.1,109.8) (65.2,104.0) (66.5,99.0) (67.3,101.5) (68.1,103.5) (69.2,97.3) (70.0,98.5) (71.4,99.0) (72.3,103.2) (73.2,98.2) (74.3,95.7) (75.1,91.2) (76.2,97.8) (77.3,69.0) (78.4,75.7) (79.3,83.5) (80.2,72.3) (81.3,68.5) (82.1,67.8) (83.2,74.5) (84.3,75.7) (85.1,79.8) (86.2,85.7) (87.2,81.8) (88.3,81.5) (89.4,79.5) (90.5,75.7) (91.5,71.8) (92.6,70.7) (93.4,74.8) (94.2,71.8) (95.3,73.5) (96.4,78.2) (97.2,86.5) (98.1,83.2) (99.1,87.3) (100.2,91.8) (101.2,88.5) (102.3,89.8) (103.1,85.2) (104.2,79.0) (105.3,72.3) (106.1,64.0) (107.2,60.7) (108.2,73.2) (109.0,83.7) (110.1,84.5) (111.2,79.8) (112.3,78.2) (113.1,75.7) (114.1,79.5) (115.0,76.5) (116.0,73.7) (117.1,65.7) (118.2,69.0) (119.3,71.2) (120.1,64.5) (121.2,62.3) (122.2,62.3) (123.2,66.2) (124.1,58.5) (125.2,60.2) (126.3,62.8) (127.1,64.8) (128.2,79.5) (129.2,81.2) (130.3,79.8) (131.3,79.0) (132.2,74.0) (133.0,82.3) (134.1,85.5) (135.2,94.5) (136.1,97.3) (137.1,90.7) (138.1,95.7) (138.9,99.0) (140.0,113.2) (141.1,111.5) (141.9,101.5) (143.0,94.8) (144.1,83.2) (145.1,94.8) (146.2,88.2) (147.3,88.2) (148.4,93.2) (149.4,99.8) (150.5,116.5) (151.3,124.8) (152.1,136.2) (153.0,131.5) (154.0,138.2) (155.1,127.3) (156.2,134.8) (157.2,122.3) (158.1,120.7) (159.0,108.5) (159.9,113.5) (161.0,110.7) (162.1,106.5) (163.2,100.7) (164.3,104.8) (165.0,107.8) (166.1,101.5) (167.2,90.7) (168.0,83.5) (168.8,84.8) (169.6,88.2) (170.7,84.8) (172.1,79.8) (173.0,93.2) (173.9,96.5) (175.0,95.7) (176.1,111.5) (177.2,126.5) (178.2,131.2) (179.1,129.8) (179.9,139.8) (181.0,132.8) (182.0,145.7) (182.9,142.3) (184.0,137.8) (185.0,123.0)};
% green dashed (asset managers short)
\addplot[gdash, line width=0.9bp, dash pattern=on 3bp off 2bp] coordinates {
(-0.4,51.8) (1.1,49.0) (2.2,51.2) (3.2,54.8) (4.8,49.8) (6.5,43.2) (8.1,41.8) (9.7,44.0) (11.0,44.0) (12.1,46.5) (13.2,53.2) (14.3,53.5) (15.6,56.5) (16.7,55.7) (17.8,53.2) (19.4,51.5) (21.0,52.3) (22.6,53.2) (23.7,50.7) (24.5,46.5) (25.3,47.3) (26.4,46.5) (27.7,46.5) (29.1,46.8) (30.2,48.2) (31.2,54.0) (32.3,54.8) (33.4,56.8) (34.5,55.2) (35.5,54.8) (36.6,51.5) (38.2,51.2) (39.3,45.7) (40.4,45.7) (41.5,41.5) (42.5,40.7) (43.6,41.2) (44.7,41.8) (45.8,41.2) (47.1,39.8) (48.2,43.2) (49.5,41.8) (51.2,41.2) (52.8,41.2) (54.4,41.2) (55.5,37.8) (56.5,40.7) (58.2,47.3) (59.2,40.7) (60.3,29.0) (61.4,26.5) (62.7,25.7) (64.4,24.0) (65.4,25.7) (66.5,25.7) (67.6,26.8) (68.4,27.8) (69.2,27.3) (70.3,33.5) (71.4,33.5) (72.4,34.5) (73.2,36.5) (74.3,40.2) (75.4,36.5) (76.5,40.3) (77.5,40.3) (78.4,43.2) (79.2,51.5) (80.2,55.7) (81.3,58.2) (82.4,54.8) (83.2,46.5) (84.3,44.0) (85.6,44.0) (87.0,46.5) (88.3,49.8) (89.4,53.2) (91.0,54.8) (92.1,51.5) (93.2,51.2) (94.2,49.0) (95.3,48.2) (96.4,48.5) (97.5,50.7) (98.5,51.8) (99.4,51.5) (100.2,45.7) (101.2,46.5) (102.2,51.2) (103.1,48.2) (104.2,38.5) (105.3,36.5) (106.4,40.2) (107.7,42.8) (109.0,47.8) (109.9,44.0) (111.2,42.3) (112.5,43.2) (113.9,47.3) (115.0,51.5) (116.3,51.5) (117.4,51.2) (118.5,53.2) (119.5,51.5) (120.9,52.3) (122.0,55.7) (122.8,62.3) (123.9,59.8) (125.2,56.5) (126.0,50.7) (126.8,47.8) (127.6,46.8) (129.0,41.5) (130.1,40.2) (131.1,43.2) (131.9,45.7) (133.0,46.5) (134.1,46.2) (134.9,45.7) (136.2,46.2) (137.3,46.5) (138.4,46.8) (139.2,43.5) (140.3,42.3) (141.1,40.7) (141.9,44.0) (142.7,47.8) (143.8,43.2) (144.9,36.8) (145.7,37.3) (146.5,38.2) (147.8,43.2) (149.2,45.7) (150.2,39.0) (151.3,38.2) (152.1,41.2) (152.9,37.3) (154.3,37.3) (155.4,36.8) (156.2,31.8) (157.2,32.3) (158.0,34.0) (158.9,31.5) (160.5,30.7) (161.3,27.3) (162.1,30.7) (163.2,33.2) (164.2,29.8) (165.0,26.5) (165.8,27.3) (166.9,30.7) (168.0,29.8) (169.1,34.0) (170.2,38.5) (171.0,41.2) (171.8,39.8) (172.9,38.2) (173.9,34.0) (175.0,29.8) (176.1,31.5) (177.2,33.2) (178.2,32.3) (179.3,32.2) (180.4,31.5) (181.5,30.7) (182.6,31.8) (183.6,33.2) (185.0,33.1)};
% green solid line
\addplot[gsolid, line width=0.9bp] coordinates {
(-0.4,59.8) (0.5,60.2) (1.3,53.2) (2.2,60.7) (3.2,63.2) (4.3,61.2) (5.7,59.0) (6.5,53.2) (7.5,48.2) (8.3,48.2) (9.4,50.7) (10.5,44.8) (11.3,49.0) (12.3,44.8) (13.5,53.2) (14.5,53.5) (15.6,59.8) (17.2,59.5) (18.3,56.5) (19.4,55.7) (20.5,55.2) (21.5,54.0) (22.6,59.8) (24.0,61.2) (25.3,57.3) (26.4,58.5) (27.5,66.2) (28.5,62.3) (29.1,63.2) (29.9,59.0) (30.7,56.5) (31.8,59.8) (32.8,58.2) (33.7,58.5) (34.7,55.7) (35.6,54.8) (36.3,51.5) (37.4,43.2) (38.3,39.5) (39.3,55.2) (40.4,48.2) (42.0,56.2) (43.6,56.5) (45.0,56.8) (46.0,57.3) (47.1,63.5) (48.2,60.2) (49.3,44.8) (50.3,28.2) (51.3,11.8) (52.2,23.5) (53.3,17.3) (54.4,15.7) (55.5,9.8) (56.3,10.2) (57.3,16.5) (58.2,18.5) (59.2,24.0) (60.2,29.8) (61.4,39.8) (62.2,32.8) (63.1,32.4) (64.4,26.5) (65.7,19.0) (67.3,11.5) (68.4,11.2) (69.2,8.2) (70.3,13.5) (71.4,17.7) (72.4,16.5) (73.2,10.7) (74.3,10.2) (75.1,11.5) (76.2,18.2) (77.3,23.2) (78.4,23.2) (79.2,33.2) (80.2,34.8) (81.3,38.5) (82.1,38.5) (83.2,46.2) (84.0,46.2) (85.1,36.0) (86.2,40.7) (87.5,34.0) (88.9,31.2) (89.9,30.7) (91.0,30.7) (92.1,28.2) (92.9,26.8) (94.2,29.8) (95.9,29.5) (97.2,29.8) (98.0,24.8) (99.1,28.2) (100.2,31.8) (101.2,30.3) (102.0,32.3) (103.1,28.2) (103.9,38.2) (105.0,38.2) (106.1,34.8) (107.2,28.5) (108.2,31.8) (109.3,31.5) (110.4,33.2) (111.7,32.3) (113.1,31.8) (114.2,34.0) (115.2,35.2) (116.3,34.8) (117.4,31.2) (118.2,31.8) (119.3,34.0) (120.1,29.8) (121.2,28.2) (122.2,28.5) (123.2,35.2) (124.1,29.5) (125.2,29.8) (126.3,38.5) (127.4,40.7) (128.2,53.5) (129.2,41.2) (130.1,39.8) (131.1,43.2) (132.2,45.2) (133.3,44.8) (134.1,44.0) (134.9,53.2) (135.7,51.8) (137.1,40.7) (138.4,43.5) (139.2,53.2) (140.1,68.2) (140.8,58.2) (142.1,38.2) (143.0,44.0) (144.1,44.8) (145.1,49.0) (146.2,42.3) (147.0,37.8) (148.1,39.0) (149.2,45.7) (150.2,61.5) (152.1,71.5) (153.2,60.7) (154.3,53.2) (155.4,46.5) (156.2,35.7) (157.2,35.7) (158.1,38.5) (158.9,33.2) (159.9,30.7) (161.0,29.0) (162.1,32.3) (163.2,33.2) (164.2,31.2) (165.3,28.8) (166.4,28.5) (167.5,30.7) (169.1,38.2) (170.2,44.0) (171.2,46.8) (172.3,45.7) (173.4,41.8) (174.5,37.3) (175.6,38.5) (176.6,44.8) (177.4,47.8) (178.5,48.2) (179.1,49.0) (180.0,53.2) (181.0,41.5) (182.0,38.2) (183.1,34.0) (184.2,33.5) (185.0,30.6)};
\end{axis}

% ---------- frame details ----------
\draw[black!45, line width=0.8bp] (0,-342) -- (1257,-342);
\draw[black, line width=0.8bp] (1257,-25) -- (1257,-342);
\foreach \xx in {59,138,219,299,379,460,540,620,701,781,862,942,1022,1109,1189}
  \draw[black!70, line width=0.8bp] (\xx,-683) -- (\xx,-699);

% ---------- texts ----------
\node[font=\bfseries\fs{16}] at (665,-11) {Weekly : AUD/USD futures, large speculator net exposure (asset managers, dashed)};
\node[align=center, font=\fs{15.4}, text=black!88, inner sep=0pt] at (986,-116.5)
  {A closure of shorts saw net-long\\[2.6bp] exposure fall from a record high in recent\\[2.6bp] weeks, yet a rise of geopolitical tensions\\[2.6bp] weighed on appetite for risk and\\[2.6bp] prompted a bearish engulfing week};
\node[anchor=east, font=\fs{10.5}, text=axtext, inner sep=0pt] at (43,-32) {Price};
\node[anchor=east, font=\fs{10.5}, text=axtext, inner sep=0pt] at (43,-48) {USD};
\node[anchor=west, font=\fs{10.5}, text=axtext, inner sep=0pt] at (1263,-49) {Value};
\node[anchor=west, font=\fs{10.5}, text=axtext, inner sep=0pt] at (1263,-367) {Value};
\node[anchor=east, font=\fs{10.5}, text=axtext, inner sep=0pt] at (40,-319) {0.62};
\node[anchor=west, font=\fs{10.5}, text=axtext, inner sep=0pt] at (1266,-319) {-120,000};
\node[anchor=east, font=\fs{10}, text=navyline, inner sep=0pt] at (1255,-329) {0.6175};

% value boxes
\fill[black] (0,-277) rectangle (46,-291);
\node[font=\bfseries\fs{10.5}, text=white, inner sep=0pt] at (23,-284) {0.64570};
\fill[black] (1257,-271) rectangle (1334,-298);
\node[anchor=west, font=\fs{10.5}, text=white, inner sep=0pt] at (1258,-277.5) {-89,882.000};
\node[anchor=west, font=\fs{10.5}, text=white, inner sep=0pt] at (1258,-291.5) {-92,341.000};
\fill[red] (1257,-395) rectangle (1334,-423);
\node[anchor=west, font=\fs{10.5}, text={rgb,255:red,110;green,0;blue,0}, inner sep=0pt] at (1258,-402) {123,031.000};
\node[anchor=west, font=\fs{10.5}, text={rgb,255:red,110;green,0;blue,0}, inner sep=0pt] at (1258,-416) {122,897.000};
\fill[lbldkgreen] (1257,-582) rectangle (1334,-596);
\node[anchor=west, font=\fs{10.5}, text=white, inner sep=0pt] at (1258,-589) {33,149.000};
\fill[lblgreen] (1257,-596) rectangle (1334,-610);
\node[anchor=west, font=\fs{10.5}, text=white, inner sep=0pt] at (1258,-603) {30,556.000};

% Auto boxes
\foreach \ax/\ay in {18/-330,1264/-330,1264/-651}{
  \draw[black!80, line width=0.7bp, fill=white] (\ax,\ay) rectangle ++(25,-11.5);
  \node[font=\fs{9.5}, inner sep=0pt] at (\ax+12.5,\ay-5.8) {Auto};
}
% window icons
\foreach \wy in {-28,-346}{
  \draw[black!55, fill=black!12] (1305,\wy) rectangle ++(11,-11);
  \draw[black!70, line width=0.8bp] (1307.5,\wy-4.5) rectangle ++(6,-2.5);
  \draw[black!55, fill={rgb,255:red,225;green,200;blue,200}] (1318,\wy) rectangle ++(12,-11);
  \draw[black!75, line width=1.2bp] (1320,\wy-2) -- (1328,\wy-9) (1320,\wy-9) -- (1328,\wy-2);
}
\pgfresetboundingbox
\path[use as bounding box] (0,0) rectangle (1334,-700);
\end{tikzpicture}
\end{document}
